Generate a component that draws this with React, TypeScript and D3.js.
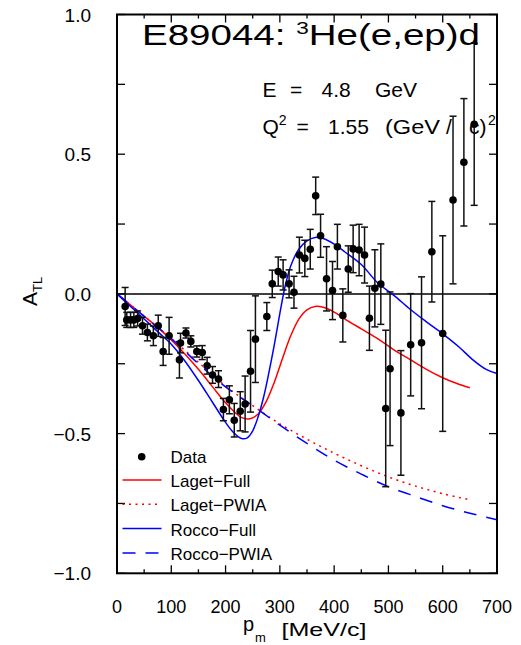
import * as d3 from 'd3';

// data points: missing momentum p_m [MeV/c], A_TL, error
const pm = [15, 18, 25, 31, 38, 47, 56, 67, 76, 85, 96, 115, 117, 127, 136, 147, 157, 166, 176, 187,
  196, 207, 216, 227, 236, 246, 255, 276, 286, 297, 306, 317, 326, 336, 346, 356, 366, 375, 386, 397,
  406, 416, 426, 435, 446, 456, 465, 475, 486, 495, 503, 523, 541, 561, 580, 600, 619, 639, 658];
const atl = [-0.045, -0.093, -0.093, -0.093, -0.088, -0.114, -0.138, -0.15, -0.114, -0.206, -0.15, -0.236, -0.176, -0.14, -0.17, -0.206, -0.21, -0.257, -0.29, -0.305,
  -0.414, -0.379, -0.452, -0.42, -0.394, -0.277, -0.162, -0.081, 0.036, 0.08, 0.068, 0.036, 0.006, 0.139, 0.127, 0.16, 0.351, 0.208, 0.054, 0.012,
  0.169, -0.077, 0.089, 0.161, 0.157, 0.139, -0.087, 0.02, 0.035, -0.41, -0.268, -0.426, -0.182, -0.175, 0.151, -0.142, 0.336, 0.471, 0.607];
const err = [0.068, 0.027, 0.027, 0.027, 0.027, 0.03, 0.03, 0.035, 0.038, 0.05, 0.066, 0.065, 0.035, 0.018, 0.02, 0.02, 0.025, 0.03, 0.03, 0.03,
  0.04, 0.05, 0.06, 0.07, 0.1, 0.146, 0.155, 0.05, 0.049, 0.052, 0.054, 0.05, 0.057, 0.064, 0.065, 0.071, 0.067, 0.077, 0.115, 0.104,
  0.08, 0.095, 0.083, 0.085, 0.092, 0.1, 0.115, 0.138, 0.144, 0.28, 0.275, 0.223, 0.183, 0.236, 0.18, 0.35, 0.3, 0.228, 0.29];

// calculations
const lagetFull = [[0, 0], [25, -0.04], [50, -0.08], [75, -0.12], [100, -0.165], [125, -0.215], [150, -0.27], [175, -0.33], [200, -0.39],
  [215, -0.42], [230, -0.443], [245, -0.447], [260, -0.43], [275, -0.385], [290, -0.315], [305, -0.23], [320, -0.15], [335, -0.09],
  [350, -0.057], [365, -0.045], [380, -0.048], [400, -0.065], [420, -0.09], [450, -0.125], [480, -0.16], [510, -0.2], [540, -0.235],
  [570, -0.27], [600, -0.3], [625, -0.32], [650, -0.336]];
const lagetPwia = [[0, 0], [50, -0.08], [100, -0.16], [150, -0.245], [200, -0.33], [250, -0.4], [300, -0.465], [350, -0.52],
  [400, -0.57], [450, -0.615], [500, -0.655], [550, -0.688], [600, -0.715], [650, -0.737]];
const roccoFull = [[0, 0], [25, -0.045], [50, -0.09], [75, -0.135], [100, -0.18], [125, -0.24], [150, -0.31], [175, -0.385],
  [200, -0.46], [215, -0.497], [230, -0.518], [240, -0.515], [250, -0.49], [260, -0.44], [270, -0.37], [280, -0.28], [290, -0.18],
  [300, -0.07], [310, 0.03], [320, 0.1], [335, 0.16], [350, 0.19], [365, 0.202], [380, 0.198], [400, 0.178], [420, 0.15],
  [450, 0.105], [480, 0.04], [510, -0.005], [540, -0.055], [570, -0.1], [600, -0.143], [630, -0.19], [655, -0.235], [680, -0.27], [700, -0.285]];
const roccoPwia = [[0, 0], [50, -0.08], [100, -0.16], [150, -0.25], [200, -0.333], [250, -0.4], [300, -0.47], [350, -0.535],
  [400, -0.595], [450, -0.645], [500, -0.69], [550, -0.725], [600, -0.758], [650, -0.785], [700, -0.808]];

const xTicks = [0, 100, 200, 300, 400, 500, 600, 700];
const xMinor = [50, 150, 250, 350, 450, 550, 650];
const yTicks = [1, 0.5, 0, -0.5, -1];
const yTickLabels = ['1.0', '0.5', '0.0', '\u22120.5', '\u22121.0'];
const yMinor = [0.75, 0.25, -0.25, -0.75];

const legendItems = [
  { label: 'Laget\u2212Full', color: '#ff0000', dash: null },
  { label: 'Laget\u2212PWIA', color: '#ff0000', dash: '2,4.5' },
  { label: 'Rocco\u2212Full', color: '#0000ff', dash: null },
  { label: 'Rocco\u2212PWIA', color: '#0000ff', dash: '13,10' },
];

const FONT = '"Liberation Sans", Arial, sans-serif';

export default function App() {
  const W = 521, H = 645;
  const x = d3.scaleLinear().domain([0, 700]).range([117, 497]);
  const y = d3.scaleLinear().domain([-1, 1]).range([573.3, 14.5]);
  const line = d3.line<number[]>().x(d => x(d[0])).y(d => y(d[1])).curve(d3.curveCatmullRom);

  const curves = [
    { d: lagetFull, color: '#ff0000', dash: null },
    { d: lagetPwia, color: '#ff0000', dash: '2,4.5' },
    { d: roccoFull, color: '#0000ff', dash: null },
    { d: roccoPwia, color: '#0000ff', dash: '13,10' },
  ];

  const [xl, xr] = x.range();
  const [yb, yt] = y.range();

  return (
    <svg width={W} height={H} style={{ position: 'absolute', left: 0, top: 0, background: '#fff' }}
      fontFamily={FONT}>
      {/* zero line */}
      <line x1={xl} x2={xr} y1={y(0)} y2={y(0)} stroke="#000" strokeWidth={1.5} />

      {/* curves */}
      {curves.map((c, i) => (
        <path key={i} d={line(c.d) || ''} fill="none" stroke={c.color} strokeWidth={1.5}
          strokeDasharray={c.dash || undefined} />
      ))}

      {/* data */}
      {pm.map((p, i) => {
        const cx = x(p);
        const top = y(atl[i] + err[i]);
        const bot = y(atl[i] - err[i]);
        return (
          <g key={i} stroke="#111" strokeWidth={1.5}>
            <line x1={cx} x2={cx} y1={top} y2={bot} />
            <line x1={cx - 3.5} x2={cx + 3.5} y1={top} y2={top} />
            <line x1={cx - 3.5} x2={cx + 3.5} y1={bot} y2={bot} />
            <circle cx={cx} cy={y(atl[i])} r={3.8} fill="#000" stroke="none" />
          </g>
        );
      })}

      {/* frame and ticks */}
      <rect x={xl} y={yt} width={xr - xl} height={yb - yt} fill="none" stroke="#000" strokeWidth={2} />
      {xTicks.map(t => (
        <g key={'xt' + t} stroke="#000" strokeWidth={1.3}>
          <line x1={x(t)} x2={x(t)} y1={yb} y2={yb - 8} />
          <line x1={x(t)} x2={x(t)} y1={yt} y2={yt + 8} />
        </g>
      ))}
      {xMinor.map(t => (
        <g key={'xm' + t} stroke="#000" strokeWidth={1.3}>
          <line x1={x(t)} x2={x(t)} y1={yb} y2={yb - 4} />
          <line x1={x(t)} x2={x(t)} y1={yt} y2={yt + 4} />
        </g>
      ))}
      {[...yTicks, ...yMinor].map(t => (
        <g key={'yt' + t} stroke="#000" strokeWidth={1.3}>
          <line x1={xl} x2={xl + 8} y1={y(t)} y2={y(t)} />
          <line x1={xr} x2={xr - 8} y1={y(t)} y2={y(t)} />
        </g>
      ))}

      {/* tick labels */}
      {xTicks.map(t => (
        <text key={'xl' + t} x={x(t)} y={613} fontSize={18} textAnchor="middle">{t}</text>
      ))}
      {yTicks.map((t, i) => (
        <text key={'yl' + t} x={91} y={y(t) + 7} fontSize={19} textAnchor="end">{yTickLabels[i]}</text>
      ))}

      {/* axis titles */}
      <text x={243} y={631} fontSize={20}>p</text>
      <text x={255} y={642} fontSize={13}>m</text>
      <text x={281.5} y={636} fontSize={19} textLength={85} lengthAdjust="spacingAndGlyphs">[MeV/c]</text>
      <g transform="translate(37,306) rotate(-90)">
        <text x={0} y={0} fontSize={21}>A<tspan fontSize={13} dy={5}>TL</tspan></text>
      </g>

      {/* annotations */}
      <text x={142} y={45} fontSize={29} textLength={338} lengthAdjust="spacingAndGlyphs">
        E89044:  <tspan fontSize={17} dy={-11}>3</tspan><tspan dy={11}>He(e,ep)d</tspan>
      </text>
      <g fontSize={21}>
        <text x={262.5} y={97}>E</text>
        <text x={290} y={97}>=</text>
        <text x={321.5} y={97}>4.8</text>
        <text x={375} y={97}>GeV</text>
        <text x={262.5} y={134}>Q<tspan fontSize={14} dy={-9}>2</tspan></text>
        <text x={296.5} y={134}>=</text>
        <text x={328} y={134}>1.55</text>
        <text x={385} y={134} textLength={55} lengthAdjust="spacingAndGlyphs">(GeV</text>
        <text x={446} y={134}>/</text>
        <text x={469} y={134}>c)</text>
        <text x={488} y={125} fontSize={14}>2</text>
      </g>

      {/* legend */}
      <circle cx={141.7} cy={456.7} r={3.8} fill="#000" />
      <text x={170.5} y={463} fontSize={17}>Data</text>
      {legendItems.map((it, i) => {
        const by = 487 + i * 24.3;
        return (
          <g key={it.label}>
            <line x1={122.5} x2={161.5} y1={by - 7} y2={by - 7} stroke={it.color} strokeWidth={1.5}
              strokeDasharray={it.dash || undefined} />
            <text x={170.5} y={by} fontSize={17}>{it.label}</text>
          </g>
        );
      })}
    </svg>
  );
}
